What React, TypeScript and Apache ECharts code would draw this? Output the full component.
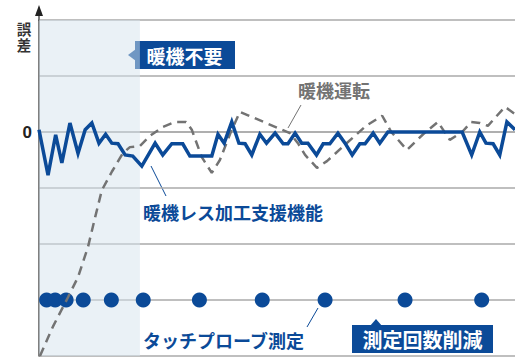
import React, { useEffect, useRef } from "react";
import * as echarts from "echarts";

const BLUE = "#0b4a98";
const GRAY = "#737373";
const FONT = "'Noto Sans CJK JP', 'Noto Sans', sans-serif";

// time (0..100) and error values
const blueLine: [number, number][] = [
  [0, 0.4], [1.9, -7.7], [3.5, -0.5], [4.8, -5.5], [6.5, 1.6], [8.2, -3.8],
  [9.7, 0.4], [11.1, 1.6], [12.6, -2], [14.0, -0.4], [15.3, -2], [16.6, -2.1],
  [18.1, -4.1], [19.7, -4.3], [21.6, -6.1], [24.4, -2], [26.0, -4.1], [27.9, -2.1],
  [30.2, -2.1], [31.7, -4.3], [36.3, -4.3], [37.6, -0.4], [38.9, -2], [40.5, 1.8],
  [42.0, -2], [43.3, -2.1], [44.7, -4.1], [46.4, -0.4], [47.8, -2], [49.6, -0.2],
  [51.3, -2.1], [52.3, -2.1], [53.8, -0.2], [55.2, -2], [56.5, -2], [58.3, -4.1],
  [59.7, -2.1], [61.1, -2.1], [62.8, -0.2], [64.3, -2], [65.8, -4.1], [67.4, -2.1],
  [68.5, -2.1], [70.2, -0.2], [71.6, -2], [73.3, 0], [88.9, 0], [90.9, -4.1],
  [92.6, 0], [93.9, -2], [95.4, -2.1], [96.8, -4.1], [98.3, 1.8], [100, 0.4],
];

const grayLine: [number, number][] = [
  [0.2, -40], [2.9, -34.8], [6.1, -29.5], [8.2, -25.9], [10.3, -20.5], [11.8, -15.2],
  [13.2, -10.4], [15.3, -7.1], [17.6, -3.8], [19.1, -2.7], [21.2, -2.5], [23.3, -0.7],
  [26.0, 0.9], [28.6, 1.8], [30.9, 1.8], [32.1, 0.4], [34.2, -4.5], [36.3, -7.3],
  [38.0, -5], [40.3, 0], [42.2, 3.6], [52.7, -0.2], [54.4, -2], [55.9, -4.1],
  [58.4, -6.4], [60.5, -5.2], [64.5, -2.1], [68.7, 1.1], [72.1, 2.9], [74.0, 0],
  [77.3, -3.2], [80.7, -0.4], [83.8, 1.8], [86.3, -1.4], [88.9, 0], [90.8, 1.8],
  [92.6, 1.6], [94.3, 1.1], [97.9, 4.5], [100, 3.2],
];

const probeTimes: number[] = [1.6, 3.4, 5.7, 9.3, 15.2, 21.9, 33.7, 46.9, 60.1, 76.9, 93.0];
const probeLevel = -30;

const warmupFreeEnd = 21.2;
const yTicks = { min: -40, max: 20, interval: 10 };

export default function App() {
  const ref = useRef<HTMLDivElement>(null);
  useEffect(() => {
    if (!ref.current) return;
    const chart = echarts.init(ref.current, undefined, { renderer: "svg" });
    chart.setOption({
      animation: false,
      backgroundColor: "#ffffff",
      grid: { left: 39, right: 0, top: 20, bottom: 6 },
      xAxis: {
        type: "value",
        min: 0,
        max: 100,
        axisLabel: { show: false },
        axisTick: { show: false },
        splitLine: { show: false },
        axisLine: { show: true, lineStyle: { color: "#aaaaaa", width: 1.5 } },
      },
      yAxis: {
        type: "value",
        min: yTicks.min,
        max: yTicks.max,
        interval: yTicks.interval,
        axisTick: { show: false },
        axisLine: { show: true, lineStyle: { color: "#555555", width: 1.5 } },
        axisLabel: {
          formatter: (v: number) => (v === 0 ? "0" : ""),
          color: "#222",
          fontSize: 17,
          fontWeight: "bold",
          fontFamily: "'Liberation Sans', Arial, sans-serif",
          margin: 7,
        },
        splitLine: { show: true, lineStyle: { color: "#aaaaaa", width: 1.5 } },
      },
      series: [
        {
          type: "scatter",
          data: probeTimes.map((t) => [t, probeLevel]),
          symbolSize: 15,
          z: 2,
          itemStyle: { color: BLUE, opacity: 1 },
        },
        {
          type: "line",
          data: grayLine,
          symbol: "none",
          z: 3,
          lineStyle: { color: GRAY, width: 2.5, type: [9, 6] },
          markArea: {
            silent: true,
            itemStyle: { color: "rgb(213,227,237)", opacity: 0.5 },
            data: [[{ xAxis: 0, yAxis: yTicks.max }, { xAxis: warmupFreeEnd, yAxis: yTicks.min }]],
          },
        },
        {
          type: "line",
          data: blueLine,
          symbol: "none",
          z: 4,
          lineStyle: { color: BLUE, width: 3.5, join: "miter" },
        },
      ],
      graphic: [
        { type: "line", shape: { x1: 39, y1: 21, x2: 39, y2: 14 }, style: { stroke: "#555", lineWidth: 1.5 } },
        { type: "polygon", shape: { points: [[35, 16], [43, 16], [39, 5]] }, style: { fill: "#222" } },
        {
          type: "text", x: 24, y: 28,
          style: { text: "誤", fill: "#333", fontSize: 14.5, lineHeight: 14.5, fontWeight: "bold", fontFamily: FONT, align: "center", verticalAlign: "middle" },
        },
        {
          type: "text", x: 24, y: 44.5,
          style: { text: "差", fill: "#333", fontSize: 14.5, lineHeight: 14.5, fontWeight: "bold", fontFamily: FONT, align: "center", verticalAlign: "middle" },
        },
        { type: "rect", shape: { x: 135, y: 41, width: 100, height: 28 }, style: { fill: BLUE } },
        { type: "polygon", shape: { points: [[136, 49], [128, 55], [136, 61]] }, style: { fill: BLUE } },
        {
          type: "text", x: 184.5, y: 55.5,
          style: { text: "暖機不要", fill: "#fff", fontSize: 19, fontWeight: "bold", fontFamily: FONT, align: "center", verticalAlign: "middle" },
        },
        {
          type: "text", x: 298, y: 90,
          style: { text: "暖機運転", fill: GRAY, fontSize: 18, fontWeight: "bold", fontFamily: FONT, align: "left", verticalAlign: "middle" },
        },
        { type: "line", shape: { x1: 301, y1: 105, x2: 288, y2: 128 }, style: { stroke: GRAY, lineWidth: 1 } },
        {
          type: "text", x: 143, y: 212,
          style: { text: "暖機レス加工支援機能", fill: BLUE, fontSize: 18, fontWeight: "bold", fontFamily: FONT, align: "left", verticalAlign: "middle" },
        },
        { type: "line", shape: { x1: 151, y1: 166, x2: 166, y2: 196 }, style: { stroke: BLUE, lineWidth: 1 } },
        {
          type: "text", x: 143, y: 340,
          style: { text: "タッチプローブ測定", fill: BLUE, fontSize: 18, fontWeight: "bold", fontFamily: FONT, align: "left", verticalAlign: "middle" },
        },
        { type: "line", shape: { x1: 307, y1: 327, x2: 318, y2: 308 }, style: { stroke: BLUE, lineWidth: 1 } },
        { type: "rect", shape: { x: 352, y: 325, width: 141, height: 28 }, style: { fill: BLUE } },
        { type: "polygon", shape: { points: [[370, 326], [376, 319], [382, 326]] }, style: { fill: BLUE } },
        {
          type: "text", x: 422.5, y: 339.5,
          style: { text: "測定回数削減", fill: "#fff", fontSize: 20, fontWeight: "bold", fontFamily: FONT, align: "center", verticalAlign: "middle" },
        },
      ],
    });
    return () => chart.dispose();
  }, []);
  return <div ref={ref} style={{ width: 515, height: 362, position: "absolute", left: 0, top: 0 }} />;
}
